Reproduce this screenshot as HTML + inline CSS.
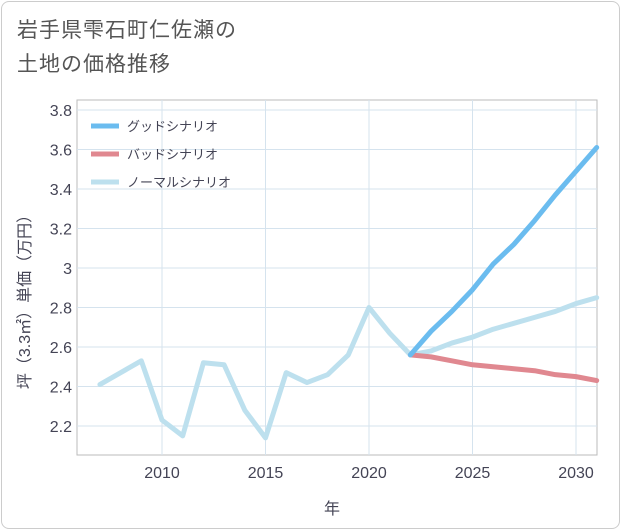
<!DOCTYPE html>
<html><head><meta charset="utf-8"><style>
body{margin:0;background:#fff;font-family:"Liberation Sans","Noto Sans CJK JP",sans-serif;}
#card{position:absolute;left:1px;top:1px;width:617px;height:526px;border:1px solid #ccc;border-radius:8px;background:#fff;}
#title{position:absolute;left:17px;top:14px;font-size:21px;line-height:34px;color:#555;letter-spacing:1px;}
svg{position:absolute;left:0;top:0;}
</style></head><body>
<div id="card"></div>
<div id="title">岩手県雫石町仁佐瀬の<br>土地の価格推移</div>
<svg id="chart" width="621" height="530"></svg>
<script>
const years=[2007,2008,2009,2010,2011,2012,2013,2014,2015,2016,2017,2018,2019,2020,2021,2022];
const hist=[2.41,2.47,2.53,2.23,2.15,2.52,2.51,2.28,2.14,2.47,2.42,2.46,2.56,2.80,2.67,2.56];
const fYears=[2022,2023,2024,2025,2026,2027,2028,2029,2030,2031];
const good=[2.56,2.68,2.78,2.89,3.02,3.12,3.24,3.37,3.49,3.61];
const bad=[2.56,2.55,2.53,2.51,2.50,2.49,2.48,2.46,2.45,2.43];
const normal=[2.56,2.58,2.62,2.65,2.69,2.72,2.75,2.78,2.82,2.85];
const xTicks=[2010,2015,2020,2025,2030];
const yTicks=[2.2,2.4,2.6,2.8,3.0,3.2,3.4,3.6,3.8];
const yLabels=["2.2","2.4","2.6","2.8","3","3.2","3.4","3.6","3.8"];
const L=77,R=597,T=100,B=455;
const X=v=>576+(v-2030)*20.7;
const Y=v=>268-(v-3.0)*197.5;
const svg=document.getElementById('chart');
const NS='http://www.w3.org/2000/svg';
function mk(t,a){const e=document.createElementNS(NS,t);for(const k in a)e.setAttribute(k,a[k]);svg.appendChild(e);return e;}
const frame=mk('rect',{x:L,y:T,width:R-L,height:B-T,fill:'none',stroke:'#bbb'});


xTicks.forEach(v=>{
 const g=mk('line',{x1:X(v),x2:X(v),y1:T,y2:B,stroke:'#d5e3ee'});
 
 
 const t=mk('text',{x:X(v),y:478,'text-anchor':'middle','font-size':16,fill:'#445'});t.textContent=v;
 
 
});
yTicks.forEach((v,i)=>{
 const g=mk('line',{x1:L,x2:R,y1:Y(v),y2:Y(v),stroke:'#d5e3ee'});
 
 
 const t=mk('text',{x:72,y:Y(v)+6,'text-anchor':'end','font-size':16,fill:'#445'});t.textContent=yLabels[i];
 
 
});
const xt=mk('text',{x:332,y:514,'text-anchor':'middle','font-size':16,fill:'#445'});xt.textContent='年';


const yt=mk('text',{x:0,y:0,'text-anchor':'middle','font-size':16,fill:'#445',transform:'translate(30,298) rotate(-90)'});yt.textContent='坪（3.3㎡）単価（万円）';


function line(xs,ys,color,name){
 const p=mk('polyline',{points:xs.map((x,i)=>X(x)+','+Y(ys[i])).join(' '),fill:'none',stroke:color,'stroke-width':5,'stroke-linejoin':'round','stroke-linecap':'round'});
 
 
}
line(years,hist,'#bde0ee','historical-line');
line(fYears,normal,'#bde0ee','normal-scenario-line');
line(fYears,bad,'#e08890','bad-scenario-line');
line(fYears,good,'#6bbcef','good-scenario-line');
const lg=[['グッドシナリオ','#6bbcef'],['バッドシナリオ','#e08890'],['ノーマルシナリオ','#bde0ee']];
lg.forEach((d,i)=>{
 const y=126+i*28;
 const l=mk('line',{x1:91,x2:119,y1:y,y2:y,stroke:d[1],'stroke-width':5});
 
 
 const t=mk('text',{x:127,y:y+5,'font-size':13,fill:'#445'});t.textContent=d[0];
 
 
});
</script>
</body></html>
